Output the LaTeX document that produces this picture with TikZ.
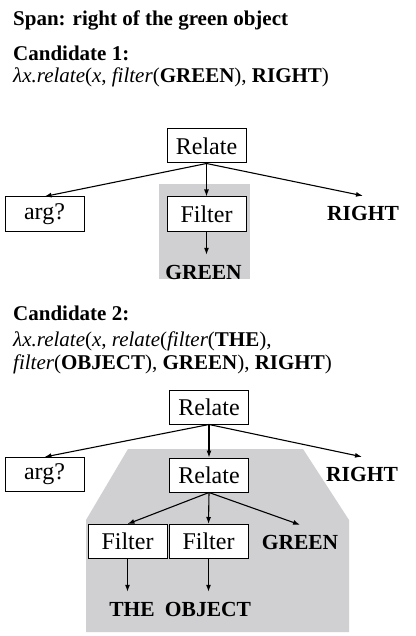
\documentclass[tikz,border=0pt]{standalone}
\usepackage{fontspec}
\setmainfont{Liberation Serif}
\usetikzlibrary{arrows.meta}
\definecolor{bggrey}{RGB}{208,207,209}
\begin{document}
\begin{tikzpicture}[x=1pt,y=-1pt,
 box/.style={draw, fill=white, line width=1pt, minimum width=79pt, minimum height=34pt, inner sep=0pt, font=\fontsize{24}{28}\selectfont},
 lab/.style={inner sep=0pt, minimum height=34pt, font=\fontsize{21.5}{26}\selectfont\bfseries},
 txt/.style={anchor=base west, inner sep=0pt, font=\fontsize{21}{25}\selectfont},
 arr/.style={-{Latex[length=7pt,width=5pt]}, line width=1.1pt}]
\useasboundingbox[fill=white] (0,0) rectangle (415,636);
% shaded regions
\fill[bggrey] (159,184) rectangle (250,279);
\fill[bggrey] (128,449) -- (303,449) -- (349,520) -- (349,632) -- (86,632) -- (86,520) -- cycle;
% texts
\node[txt] (title) at (13,26) {\textbf{Span: right of the green object}};
\node[txt] (c1) at (13,61) {\textbf{Candidate 1:}};
\node[txt] (e1) at (13,83) {\textit{λx.relate}(\textit{x}, \textit{filter}(\textbf{GREEN}), \textbf{RIGHT})};
\node[txt] (c2) at (13,320) {\textbf{Candidate 2:}};
\node[txt] (e2) at (13,346) {\textit{λx.relate}(\textit{x}, \textit{relate}(\textit{filter}(\textbf{THE}),};
\node[txt] (e3) at (13,369) {\textit{filter}(\textbf{OBJECT}), \textbf{GREEN}), \textbf{RIGHT})};
% candidate 1 tree
\node[box] (r1) at (206.5,146) {Relate};
\node[box] (a1) at (44.5,214) {arg?};
\node[box] (f1) at (206.5,214) {Filter};
\node[lab] (right1) at (363,213) {RIGHT};
\node[lab] (green1) at (203.5,272) {GREEN};
\draw[arr] (r1.south) -- (a1.north);
\draw[arr] (r1.south) -- (f1.north);
\draw[arr] (r1.south) -- (right1.north);
\draw[arr] (f1.south) -- (f1.south |- green1.north);
% candidate 2 tree
\node[box] (r2) at (209,407) {Relate};
\node[box] (a2) at (44.5,474.5) {arg?};
\node[box] (r3) at (209,475) {Relate};
\node[lab] (right2) at (362,474) {RIGHT};
\node[box] (f2) at (127.5,541.5) {Filter};
\node[box] (f3) at (208.5,541.5) {Filter};
\node[lab] (green2) at (300,542) {GREEN};
\node[lab] (the) at (132,609) {THE};
\node[lab] (obj) at (208,609) {OBJECT};
\draw[arr] (r2.south) -- (a2.north);
\draw[arr] (r2.south) -- (r3.north);
\draw[arr] (r2.south) -- (right2.north);
\draw[arr] (r3.south) -- (f2.north);
\draw[arr] (r3.south) -- (f3.north);
\draw[arr] (r3.south) -- (green2.north);
\draw[arr] (f2.south) -- (f2.south |- the.north);
\draw[arr] (f3.south) -- (f3.south |- obj.north);
\end{tikzpicture}
\end{document}
